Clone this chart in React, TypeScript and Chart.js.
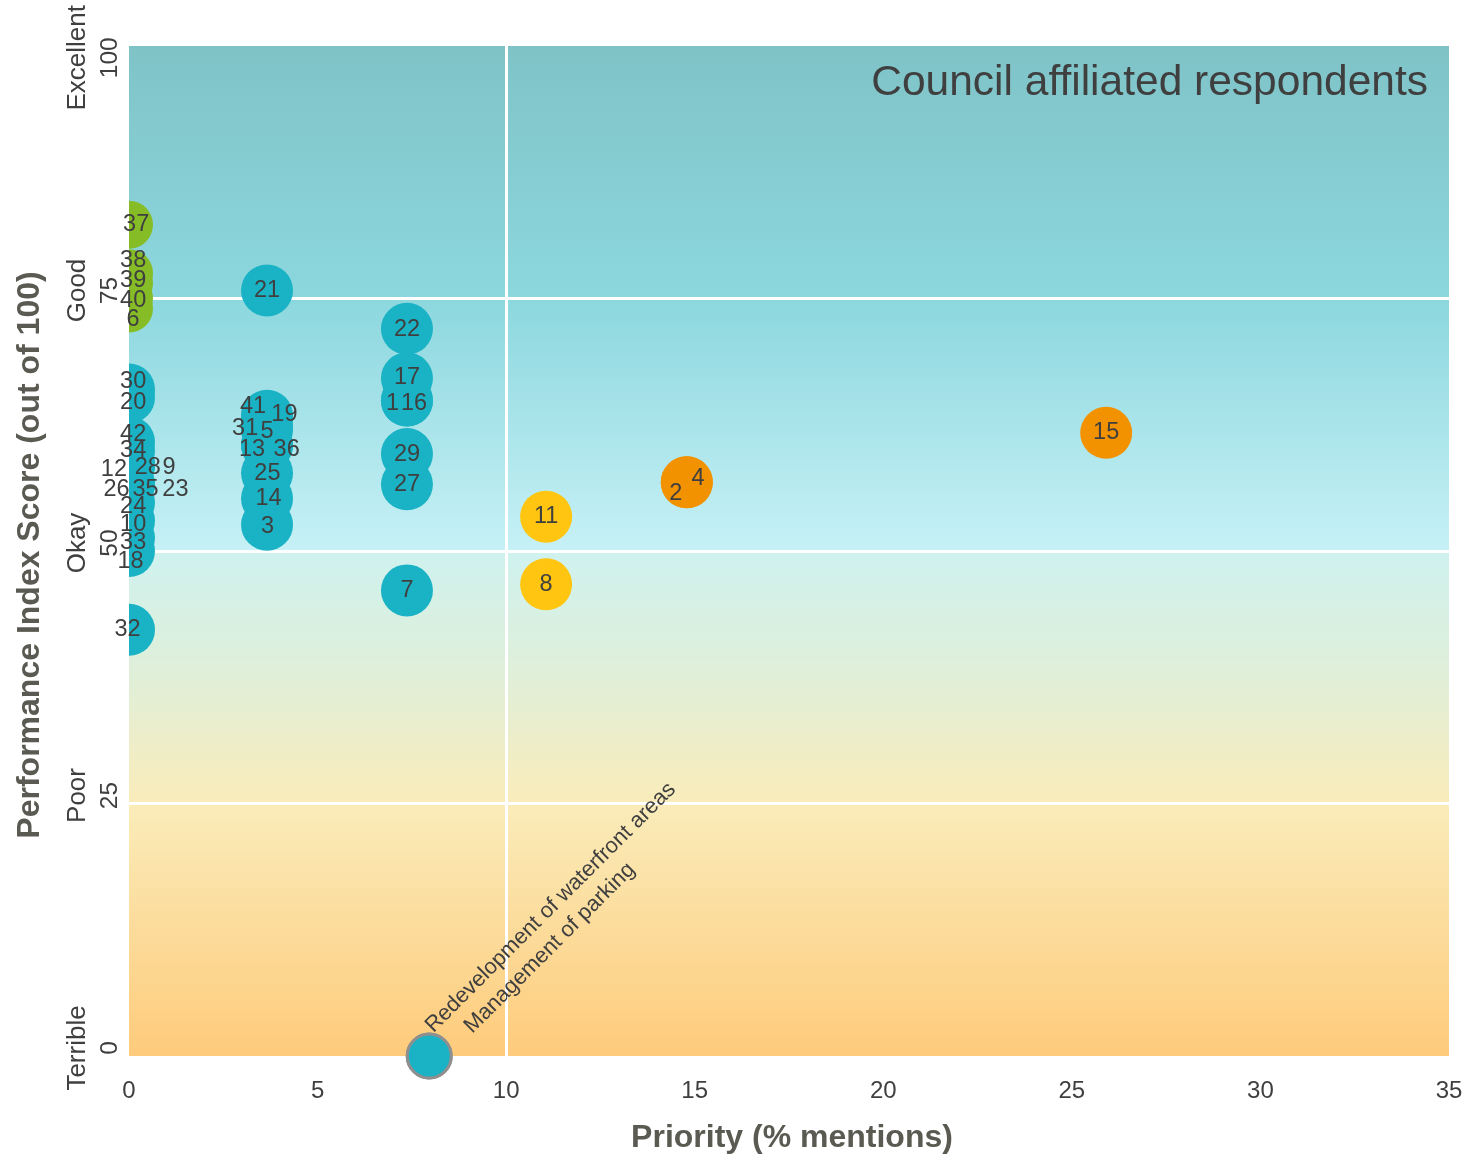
import React, { useEffect, useRef } from "react";
import { Chart, registerables } from "chart.js";

Chart.register(...registerables);

// ---- data ----
const ids = [
  "37", "38", "39", "40", "6",
  "30", "20", "42", "34", "12", "28", "9", "26", "35", "23", "24", "10", "33", "18", "32",
  "21", "41", "19", "31", "5", "13", "36", "25", "14", "3",
  "22", "17", "1", "16", "29", "27", "7",
  "11", "8",
  "15", "2", "4",
];
const priority = [
  0, 0, 0, 0, 0,
  0, 0, 0, 0, 0, 0, 0, 0, 0, 0, 0, 0, 0, 0, 0,
  3.66, 3.66, 3.66, 3.66, 3.66, 3.66, 3.66, 3.66, 3.66, 3.66,
  7.37, 7.37, 7.37, 7.37, 7.37, 7.37, 7.37,
  11.06, 11.06,
  25.91, 14.79, 14.79,
];
const score = [
  82.3, 77.5, 76.5, 75, 74,
  66, 65.2, 60.8, 59.9, 58.5, 58.5, 58.5, 56.6, 56.6, 56.6, 54.8, 53, 51.3, 50, 42.2,
  75.8, 63.4, 63.2, 62.3, 62, 60.5, 60.5, 57.7, 55.2, 52.6,
  72, 67.1, 64.9, 64.9, 59.6, 56.6, 46.1,
  53.4, 46.7,
  61.7, 56.8, 56.8,
];
const group = [
  "green", "green", "green", "green", "green",
  "teal", "teal", "teal", "teal", "teal", "teal", "teal", "teal", "teal", "teal", "teal", "teal", "teal", "teal", "teal",
  "teal", "teal", "teal", "teal", "teal", "teal", "teal", "teal", "teal", "teal",
  "teal", "teal", "teal", "teal", "teal", "teal", "teal",
  "yellow", "yellow",
  "orange", "orange", "orange",
];
const labelX = [
  0.19, 0.11, 0.11, 0.11, 0.11,
  0.11, 0.11, 0.11, 0.11, -0.4, 0.5, 1.06, -0.33, 0.44, 1.23, 0.11, 0.11, 0.11, 0.04, -0.04,
  3.66, 3.29, 4.12, 3.08, 3.66, 3.26, 4.18, 3.67, 3.7, 3.67,
  7.37, 7.37, 6.99, 7.56, 7.37, 7.37, 7.37,
  11.06, 11.06,
  25.91, 14.5, 15.09,
];
const labelY = [
  82.3, 78.8, 76.8, 74.8, 72.9,
  66.8, 64.7, 61.5, 59.9, 58.1, 58.3, 58.3, 56.1, 56.1, 56.1, 54.4, 52.6, 50.8, 49.0, 42.2,
  75.8, 64.3, 63.5, 62.1, 61.8, 60.0, 60.0, 57.7, 55.2, 52.4,
  71.9, 67.2, 64.6, 64.6, 59.6, 56.6, 46.1,
  53.4, 46.7,
  61.7, 55.7, 57.2,
];

// unscored items (no performance score)
const unscoredNames = ["Redevelopment of waterfront areas", "Management of parking"];
const unscoredPriority = [7.96, 7.96];
const unscoredScore = [0, 0];

const xTicks = [0, 5, 10, 15, 20, 25, 30, 35];
const yTicks = [0, 25, 50, 75, 100];
const yCategories = ["Terrible", "Poor", "Okay", "Good", "Excellent"];
const xQuadrant = [10];
const yQuadrant = [25, 50, 75];

const chartTitle = "Council affiliated respondents";
const xTitle = "Priority (% mentions)";
const yTitle = "Performance Index Score (out of 100)";

const groupColors: Record<string, string> = {
  green: "#86BD27",
  teal: "#1AB3C5",
  yellow: "#FFC511",
  orange: "#F39200",
};
const groupRadius: Record<string, number> = { green: 24, teal: 26, yellow: 26, orange: 26 };

const FONT = "'Liberation Sans', Arial, sans-serif";
const TEXT = "#3f3f3f";
const TITLE_COL = "#5a5a52";

export default function App() {
  const ref = useRef<HTMLCanvasElement | null>(null);

  useEffect(() => {
    document.body.style.margin = "0";
    const canvas = ref.current;
    if (!canvas) return;

    const groups = ["green", "teal", "yellow", "orange"];
    const datasets: any[] = groups.map((g) => ({
      label: g,
      data: ids
        .map((id, i) => ({ x: priority[i], y: score[i], r: groupRadius[g], id, g: group[i] }))
        .filter((d) => d.g === g),
      backgroundColor: groupColors[g],
      borderWidth: 0,
      clip: 0,
    }));
    datasets.push({
      label: "unscored",
      data: unscoredNames.map((n, i) => ({ x: unscoredPriority[i], y: unscoredScore[i], r: 22 })),
      backgroundColor: groupColors.teal,
      borderColor: "#8f8f8f",
      borderWidth: 3,
      clip: false,
    });

    const bgPlugin = {
      id: "bg",
      beforeDraw(chart: any) {
        const { ctx, chartArea: a } = chart;
        const g = ctx.createLinearGradient(0, a.top, 0, a.bottom);
        g.addColorStop(0, "#7FC3C7");
        g.addColorStop(0.25, "#8CD7DE");
        g.addColorStop(0.5, "#C6F1F6");
        g.addColorStop(0.5001, "#CFF2EF");
        g.addColorStop(0.63, "#E1EFD7");
        g.addColorStop(0.75, "#FAECBA");
        g.addColorStop(1, "#FECB7B");
        ctx.save();
        ctx.fillStyle = g;
        ctx.fillRect(a.left, a.top, a.right - a.left, a.bottom - a.top);
        ctx.restore();
      },
    };

    const textPlugin = {
      id: "texts",
      afterDatasetsDraw(chart: any) {
        const { ctx, chartArea: a } = chart;
        const xs = chart.scales.x;
        const ys = chart.scales.y;
        ctx.save();
        // bubble labels
        ctx.fillStyle = TEXT;
        ctx.font = `23.5px ${FONT}`;
        ctx.textAlign = "center";
        ctx.textBaseline = "middle";
        ids.forEach((id, i) => {
          ctx.fillText(id, xs.getPixelForValue(labelX[i]), ys.getPixelForValue(labelY[i]));
        });
        // unscored rotated labels
        const ux = xs.getPixelForValue(unscoredPriority[0]);
        const uy = ys.getPixelForValue(unscoredScore[0]);
        ctx.translate(ux, uy);
        ctx.rotate(-Math.PI / 4);
        ctx.textAlign = "left";
        ctx.textBaseline = "alphabetic";
        ctx.font = `22px ${FONT}`;
        ctx.fillText(unscoredNames[0], 19, -13);
        ctx.fillText(unscoredNames[1], 46, 15);
        ctx.restore();

        ctx.save();
        // chart title
        ctx.fillStyle = TEXT;
        ctx.font = `42.5px ${FONT}`;
        ctx.textAlign = "right";
        ctx.textBaseline = "middle";
        ctx.fillText(chartTitle, a.right - 21, a.top + 37);

        // x ticks
        ctx.font = `24px ${FONT}`;
        ctx.textAlign = "center";
        ctx.textBaseline = "middle";
        xTicks.forEach((v) => ctx.fillText(String(v), xs.getPixelForValue(v), a.bottom + 35));

        // x title
        ctx.fillStyle = TITLE_COL;
        ctx.font = `bold 32px ${FONT}`;
        ctx.fillText(xTitle, (a.left + a.right) / 2 + 3, a.bottom + 82);

        // y ticks + categories (rotated)
        yTicks.forEach((v, i) => {
          const py = ys.getPixelForValue(v) - 8;
          ctx.save();
          ctx.fillStyle = TEXT;
          ctx.font = `26px ${FONT}`;
          const w = ctx.measureText(yCategories[i]).width;
          const cy = Math.max(5 + w / 2, Math.min(chart.height - 4 - w / 2, py));
          ctx.translate(78, cy);
          ctx.rotate(-Math.PI / 2);
          ctx.textAlign = "center";
          ctx.textBaseline = "middle";
          ctx.fillText(yCategories[i], 0, 0);
          ctx.font = `24.5px ${FONT}`;
          ctx.fillText(String(v), 0, 32);
          ctx.restore();
        });

        // y title
        ctx.save();
        ctx.fillStyle = TITLE_COL;
        ctx.font = `bold 32px ${FONT}`;
        ctx.translate(30, (a.top + a.bottom) / 2 + 4);
        ctx.rotate(-Math.PI / 2);
        ctx.textAlign = "center";
        ctx.textBaseline = "middle";
        ctx.fillText(yTitle, 0, 0);
        ctx.restore();
        ctx.restore();
      },
    };

    const chart = new Chart(canvas, {
      type: "bubble",
      data: { datasets },
      options: {
        responsive: false,
        animation: false,
        events: [],
        layout: { autoPadding: false, padding: { left: 0, right: 15, top: 46, bottom: 0 } },
        plugins: { legend: { display: false }, tooltip: { enabled: false }, title: { display: false } },
        scales: {
          x: {
            type: "linear",
            min: 0,
            max: 35,
            afterBuildTicks: (s: any) => {
              s.ticks = xTicks.map((v) => ({ value: v }));
            },
            afterFit: (s: any) => {
              s.height = 99;
            },
            ticks: { display: false },
            border: { display: false },
            grid: {
              drawTicks: false,
              lineWidth: 3,
              color: (c: any) => (xQuadrant.includes(c.tick?.value) ? "#ffffff" : "rgba(0,0,0,0)"),
            },
          },
          y: {
            type: "linear",
            min: 0,
            max: 100,
            afterBuildTicks: (s: any) => {
              s.ticks = yTicks.map((v) => ({ value: v }));
            },
            afterFit: (s: any) => {
              s.width = 129;
            },
            ticks: { display: false },
            border: { display: false },
            grid: {
              drawTicks: false,
              lineWidth: 3,
              color: (c: any) => (yQuadrant.includes(c.tick?.value) ? "#ffffff" : "rgba(0,0,0,0)"),
            },
          },
        },
      },
      plugins: [bgPlugin, textPlugin],
    } as any);

    return () => chart.destroy();
  }, []);

  return (
    <div style={{ width: 1464, height: 1155 }}>
      <canvas ref={ref} width={1464} height={1155} style={{ display: "block" }} />
    </div>
  );
}
